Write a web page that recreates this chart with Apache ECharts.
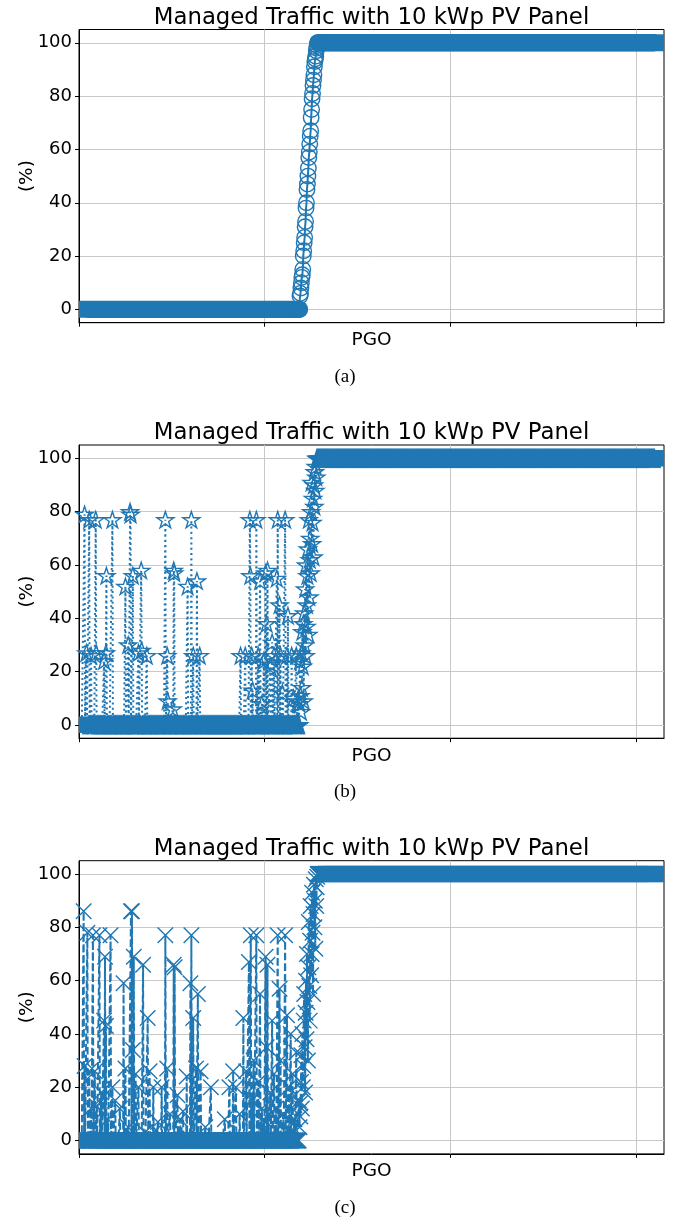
<!DOCTYPE html>
<html>
<head>
<meta charset="utf-8">
<script src="https://cdn.jsdelivr.net/npm/echarts@6/dist/echarts.min.js"></script>
<style>
html,body{margin:0;padding:0;background:#fff;}
#chart{width:681px;height:1223px;}
</style>
</head>
<body>
<div id="chart"></div>
<script>
// ---------- data ----------
var titleText = 'Managed Traffic with 10 kWp PV Panel';
var yLabel = '(%)';
var xLabel = 'PGO';
var captions = ['(a)', '(b)', '(c)'];
var yTicks = [0, 20, 40, 60, 80, 100];
var xTicks = [0, 400, 800, 1200];
var lastIndex = 1260;          // samples 0..1260 along PGO axis

// panel (a): hollow circles, solid line
var zeroEndA = 475;            // last sample at 0 %
var transA = [5, 6, 8, 10, 12, 13, 15, 20, 22, 25, 27, 31, 33, 38, 40, 45, 47, 50, 53, 57, 59, 62, 65,
  67, 72, 75, 79, 81, 84, 86, 88, 91, 93, 94, 95, 97, 98, 99];
var spikesA = [];

// panel (b): hollow stars, dotted line
var zeroEndB = 474;
var transB = [8, 24, 11, 5, 27, 14, 35, 22, 38, 9, 42, 30, 51, 26, 60, 37, 45, 56, 66, 34, 77, 48, 62,
  70, 57, 80, 91, 68, 76, 85, 63, 90, 82, 95, 88, 97, 93];
var spikesB = [[12,79],[16,27],[22,77],[26,26],[36,77],[37,27],[54,24],[58,27],[59,56],[72,77],
  [100,52],[106,30],[110,80],[111,79],[116,56],[128,27],[134,58],[135,28],[146,26],[186,77],[190,26],
  [191,9],[202,6],[204,58],[205,57],[234,52],[242,77],[246,26],[254,54],[260,26],
  [348,26],[358,26],[368,77],[369,56],[372,26],[374,13],[382,77],[386,26],[390,54],[394,8],[398,24],
  [402,57],[404,38],[406,58],[412,22],[416,31],[420,26],[426,55],[428,77],[432,45],[434,26],[438,12],
  [444,77],[448,26],[450,41],[458,26],[462,10],[468,26],[472,9]];

// panel (c): crosses, dashed line
var zeroEndC = 474;
var transC = [5, 14, 9, 22, 32, 12, 40, 20, 28, 45, 55, 35, 18, 48, 60, 38, 70, 52, 30, 65, 82, 58, 45,
  75, 88, 62, 70, 93, 78, 55, 85, 96, 80, 90, 72, 98, 88, 95, 99];
var spikesC = [[10,86],[12,28],[18,78],[22,26],[26,12],[30,77],[34,26],[38,13],[44,77],[48,18],[54,45],
  [56,69],[58,43],[62,8],[68,77],[72,20],[78,15],[88,12],[96,59],[100,27],[106,5],[112,86],[114,86],
  [116,34],[118,69],[122,25],[128,20],[138,66],[142,3],[148,46],[152,26],[160,20],[166,4],[170,7],
  [178,20],[186,77],[190,27],[196,10],[204,66],[206,65],[212,17],[218,8],[224,11],[232,24],[240,59],
  [242,77],[246,46],[252,27],[256,55],[262,26],[272,5],[284,20],[314,8],[324,20],[332,26],[338,20],
  [346,10],[354,46],[360,26],[366,67],[370,77],[372,15],[376,30],[382,77],[386,22],[390,55],[394,12],
  [398,8],[402,69],[404,35],[406,66],[412,18],[416,45],[420,25],[424,12],[428,77],[432,57],[434,30],
  [440,10],[444,77],[448,47],[452,20],[456,40],[460,25],[464,8],[468,33],[474,15]];

// ---------- build ----------
var BLUE = '#1f77b4';
var STAR = 'path://M0,-50L11.23,-15.45L47.55,-15.45L18.17,5.9L29.39,40.45L0,19.1L-29.39,40.45L-18.17,5.9L-47.55,-15.45L-11.23,-15.45Z';
var CROSS = 'path://M0,0L10,10M10,0L0,10';

function buildSeries(zeroEnd, trans, spikes) {
  var firstFull = zeroEnd + 1 + trans.length;
  var vals = [];
  for (var i = 0; i <= lastIndex; i++) {
    var v;
    if (i <= zeroEnd) v = 0;
    else if (i < firstFull) v = trans[i - zeroEnd - 1];
    else v = 100;
    vals.push(v);
  }
  spikes.forEach(function (s) { vals[s[0]] = s[1]; });
  return {
    data: vals.map(function (v, i) { return [i, v]; }),
    firstFull: firstFull
  };
}

var panels = [
  {zeroEnd: zeroEndA, trans: transA, spikes: spikesA, symbol: 'circle', size: 15.5, band: 17,
   roundEnd: true, lineType: 'solid', top: 29.5},
  {zeroEnd: zeroEndB, trans: transB, spikes: spikesB, symbol: STAR, size: 17, band: 16.5,
   roundEnd: false, lineType: [2, 3.3], top: 445},
  {zeroEnd: zeroEndC, trans: transC, spikes: spikesC, symbol: CROSS, size: 15.5, band: 16.5,
   roundEnd: false, lineType: [7.4, 3.2], top: 860.7}
];

var FONT = 'DejaVu Sans';
var PLOT_H = 293.2;
var grids = [], xAxes = [], yAxes = [], series = [], titles = [], graphics = [];
panels.forEach(function (p, k) {
  var b = buildSeries(p.zeroEnd, p.trans, p.spikes);
  grids.push({left: 79, right: 17, top: p.top, height: PLOT_H, show: true,
    borderColor: '#000', borderWidth: 1, backgroundColor: '#fff'});
  xAxes.push({type: 'value', gridIndex: k, min: 0, max: lastIndex,
    name: xLabel, nameLocation: 'middle', nameGap: 8,
    nameTextStyle: {fontFamily: FONT, fontSize: 18.5, color: '#000'},
    axisLine: {show: true, onZero: false, lineStyle: {color: '#000', width: 1}},
    axisTick: {show: true, length: 4, customValues: xTicks, lineStyle: {color: '#000', width: 1}},
    axisLabel: {show: false, customValues: xTicks},
    splitLine: {show: true, lineStyle: {color: '#c8c8c8', width: 1}}});
  yAxes.push({type: 'value', gridIndex: k, min: -5, max: 105,
    axisLine: {show: true, onZero: false, lineStyle: {color: '#000', width: 1}},
    axisTick: {show: true, length: 4, customValues: yTicks, lineStyle: {color: '#000', width: 1}},
    axisLabel: {show: true, customValues: yTicks, fontFamily: FONT, fontSize: 18, color: '#000', margin: 7},
    splitLine: {show: true, lineStyle: {color: '#c8c8c8', width: 1}}});
  // dense runs of markers at 0 % and 100 % drawn as a thick stroke of the marker height;
  // in panel (a) the inner run ends are rounded like the stacked circles
  var capSym = {symbol: 'circle', symbolSize: p.band, itemStyle: {color: BLUE, borderWidth: 0}};
  series.push({type: 'line', xAxisIndex: k, yAxisIndex: k, silent: true, z: 4,
    symbol: 'none',
    data: [[0, 0], p.roundEnd ? Object.assign({value: [p.zeroEnd, 0]}, capSym) : [p.zeroEnd, 0]],
    lineStyle: {color: BLUE, width: p.band, cap: 'butt'}});
  series.push({type: 'line', xAxisIndex: k, yAxisIndex: k, silent: true, z: 4,
    symbol: 'none',
    data: [p.roundEnd ? Object.assign({value: [b.firstFull, 100]}, capSym) : [b.firstFull, 100], [lastIndex, 100]],
    lineStyle: {color: BLUE, width: p.band, cap: 'butt'}});
  series.push({type: 'line', xAxisIndex: k, yAxisIndex: k, z: 3,
    data: b.data,
    symbol: function (val, params) {
      var i = params.dataIndex;
      var edge = (i < 20 || i > lastIndex - 20) && (val[1] === 0 || val[1] === 100);
      return edge ? 'none' : p.symbol;
    },
    symbolSize: p.size, symbolKeepAspect: true, showAllSymbol: true,
    itemStyle: {color: 'rgba(0,0,0,0)', borderColor: BLUE, borderWidth: 1.4},
    lineStyle: {color: BLUE, width: 2, type: p.lineType}});
  titles.push({text: titleText, left: 371.5, top: p.top - 23, textAlign: 'center', padding: 0,
    textStyle: {fontFamily: FONT, fontSize: 22.8, fontWeight: 'normal', color: '#000'}});
  titles.push({text: captions[k], left: 345, top: p.top + 338, textAlign: 'center', padding: 0,
    textStyle: {fontFamily: 'Liberation Serif', fontSize: 19, fontWeight: 'normal', color: '#000'}});
  graphics.push({type: 'text', x: 27, y: p.top + PLOT_H / 2, rotation: Math.PI / 2,
    style: {text: yLabel, font: '18.5px "DejaVu Sans"', fill: '#000', align: 'center', verticalAlign: 'middle'}});
});

var chart = echarts.init(document.getElementById('chart'), null, {renderer: 'canvas'});
chart.setOption({
  backgroundColor: '#fff',
  animation: false,
  title: titles,
  grid: grids,
  xAxis: xAxes,
  yAxis: yAxes,
  series: series,
  graphic: graphics
});
</script>
</body>
</html>
